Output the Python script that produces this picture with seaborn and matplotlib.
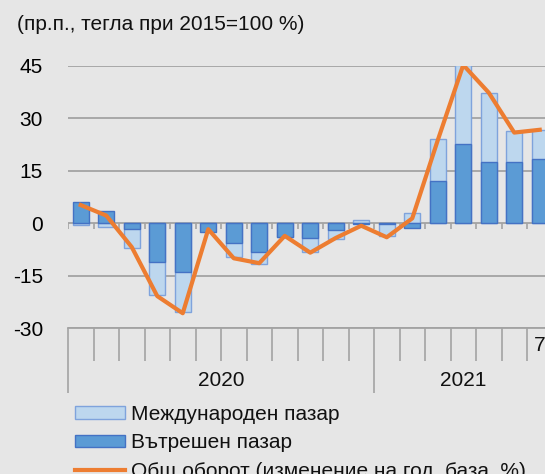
import numpy as np
import pandas as pd
import matplotlib
matplotlib.use("Agg")
import matplotlib.pyplot as plt
from matplotlib.patches import Patch
from matplotlib.lines import Line2D
import seaborn as sns

# data, months Jan 2020 .. Jul 2021
months = ['01.20', '02.20', '03.20', '04.20', '05.20', '06.20', '07.20', '08.20',
          '09.20', '10.20', '11.20', '12.20', '01.21', '02.21', '03.21', '04.21',
          '05.21', '06.21', '07.21']
domestic = [6.2, 3.4, -1.7, -11.0, -13.8, -2.4, -5.5, -8.1, -3.8, -4.3, -1.9,
            -0.3, -0.2, -1.4, 12.1, 22.6, 17.6, 17.4, 18.4]
international = [-0.5, -1.1, -5.4, -9.5, -11.6, 0.2, -4.2, -3.5, -0.2, -4.0, -2.7,
                 0.95, -3.4, 2.9, 11.9, 22.6, 19.7, 9.0, 8.3]
total = [5.2, 2.2, -6.8, -20.8, -25.7, -1.7, -10.0, -11.4, -3.6, -8.4, -4.2,
         -0.7, -4.0, 1.4, 23.7, 45.2, 37.3, 25.9, 26.7]
years = ['2020', '2021']
year_months = [12, 7]
last_label = '7'

title = '(пр.п., тегла при 2015=100 %)'
lab_int = 'Международен пазар'
lab_dom = 'Вътрешен пазар'
lab_tot = 'Общ оборот (изменение на год. база, %)'

BG = '#E6E6E6'
GRID = '#A3A3A3'
DARK = '#5B9BD5'
DARK_E = '#4472C4'
LIGHT = '#BDD7EE'
LIGHT_E = '#7FA3DC'
ORANGE = '#ED7D31'

plt.rcParams['font.family'] = ['Liberation Sans', 'DejaVu Sans']
plt.rcParams['text.color'] = '#111111'

df = pd.DataFrame({'month': months, 'dom': domestic, 'int': international,
                   'total': total})
# excel-like stacking: same sign stacks on top of domestic, else from zero
same = np.sign(df['dom']) == np.sign(df['int'])
df['int_stack'] = np.where(same, df['dom'] + df['int'], df['int'])
df['pos'] = np.arange(len(df))

fig = plt.figure(figsize=(5.45, 4.74), dpi=100, facecolor=BG)
ax = fig.add_axes([68 / 545, 1 - 328.3 / 474, 484.5 / 545, 262.6 / 474])
ax.set_facecolor(BG)

sns.barplot(data=df, x='month', y='int_stack', color=LIGHT, edgecolor=LIGHT_E,
            linewidth=1.0, width=0.63, saturation=1, errorbar=None, ax=ax, zorder=2)
sns.barplot(data=df, x='month', y='dom', color=DARK, edgecolor=DARK_E,
            linewidth=1.0, width=0.63, saturation=1, errorbar=None, ax=ax, zorder=3)
sns.lineplot(data=df, x='pos', y='total', color=ORANGE, linewidth=3.0, ax=ax,
             zorder=4)

n = len(months)
ax.set_xlim(-0.5, n - 0.5)
ax.set_ylim(-30, 45)
ax.set_yticks([-30, -15, 0, 15, 30, 45])
ax.set_yticklabels(['-30', '-15', '0', '15', '30', '45'], fontsize=15)
ax.tick_params(axis='y', length=0, pad=18)
ax.yaxis.grid(True, color=GRID, linewidth=1.3)
ax.set_axisbelow(True)
ax.set_xlabel('')
ax.set_ylabel('')

bounds = np.arange(n + 1) - 0.5
year_bounds = np.concatenate([[0], np.cumsum(year_months)]) - 0.5
ax.set_xticks(year_bounds[:-1])
ax.set_xticklabels([])
ax.set_xticks(bounds, minor=True)
ax.tick_params(axis='x', which='major', length=47, width=1.2, color=GRID)
ax.tick_params(axis='x', which='minor', length=24, width=1.2, color=GRID)

for s in ['top', 'right', 'left']:
    ax.spines[s].set_visible(False)
ax.spines['bottom'].set_color(GRID)
ax.spines['bottom'].set_linewidth(1.3)

# small ticks on the zero line
ax.vlines(bounds, 0, -1.7, color=GRID, linewidth=1.2, zorder=1)

# year labels
for i, y in enumerate(years):
    mid = (year_bounds[i] + year_bounds[i] + year_months[i]) / 2
    ax.text(mid, -44.8, y, ha='center', va='center', fontsize=15, clip_on=False)
ax.text(n - 1, -34.8, last_label, ha='center', va='center', fontsize=15,
        clip_on=False)

fig.text(17 / 545, 1 - 25 / 474, title, ha='left', va='center', fontsize=15)

handles = [Patch(facecolor=LIGHT, edgecolor=LIGHT_E, linewidth=1.0),
           Patch(facecolor=DARK, edgecolor=DARK_E, linewidth=1.0),
           Line2D([0], [0], color=ORANGE, linewidth=3.0)]
fig.legend(handles, [lab_int, lab_dom, lab_tot], loc='upper left',
           bbox_to_anchor=(75 / 545, 1 - 405 / 474), frameon=False,
           fontsize=15, borderpad=0, borderaxespad=0, handlelength=2.4,
           handleheight=0.55, handletextpad=0.3, labelspacing=0.45)

fig.savefig('out.png', dpi=100, facecolor=BG)
